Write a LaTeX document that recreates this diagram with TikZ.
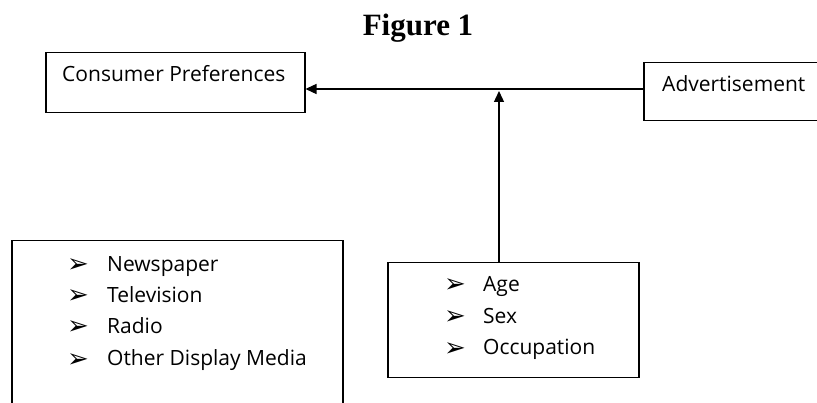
\documentclass[tikz,border=0pt]{standalone}
\usepackage{fontspec}
\setmainfont{Open Sans}
\newfontfamily\titlefont{Liberation Serif}
\newfontfamily\symfont{DejaVu Sans}
\usetikzlibrary{arrows.meta}
\begin{document}
\begin{tikzpicture}[x=1pt,y=-1pt,
  box/.style={draw=black,line width=1.5pt,rectangle,inner sep=0pt,anchor=north west},
  txt/.style={anchor=base west,inner sep=0pt,font=\fontsize{21}{24}\selectfont},
  bul/.style={anchor=base west,inner sep=0pt,font=\symfont\fontsize{26}{30}\selectfont},
  conn/.style={line width=1.3pt,-{Triangle[length=11pt,width=10pt]}}]
\useasboundingbox (0,0) rectangle (817,403);
\node[anchor=base,inner sep=0pt,font=\titlefont\bfseries\fontsize{31}{34}\selectfont] (title) at (418,36) {Figure 1};
% boxes
\node[box,minimum width=259pt,minimum height=60pt] (cp) at (45,52) {};
\node[box,minimum width=200pt,minimum height=58pt] (adv) at (643,62) {};
\node[box,minimum width=331pt,minimum height=190pt] (media) at (11,240) {};
\node[box,minimum width=251pt,minimum height=115pt] (demo) at (387,262) {};
% texts
\node[txt] (cpt) at (62,82) {Consumer Preferences};
\node[txt] (advt) at (662,92) {Advertisement};
\node[bul] (b1) at (67,273) {➢};
\node[txt] (m1) at (107,272) {Newspaper};
\node[bul] (b2) at (67,304) {➢};
\node[txt] (m2) at (107,303) {Television};
\node[bul] (b3) at (67,335) {➢};
\node[txt] (m3) at (107,334) {Radio};
\node[bul] (b4) at (67,367) {➢};
\node[txt] (m4) at (107,366) {Other Display Media};
\node[bul] (d1) at (444,293) {➢};
\node[txt] (dt1) at (483,292) {Age};
\node[bul] (d2) at (444,325) {➢};
\node[txt] (dt2) at (483,324) {Sex};
\node[bul] (d3) at (444,356) {➢};
\node[txt] (dt3) at (483,355) {Occupation};
% connectors
\coordinate (hl) at (0,89);
\coordinate (vx) at (499,0);
\draw[conn] (adv.west |- hl) -- (cp.east |- hl);
\draw[conn] (demo.north -| vx) -- (vx |- 91,91);
\end{tikzpicture}
\end{document}
